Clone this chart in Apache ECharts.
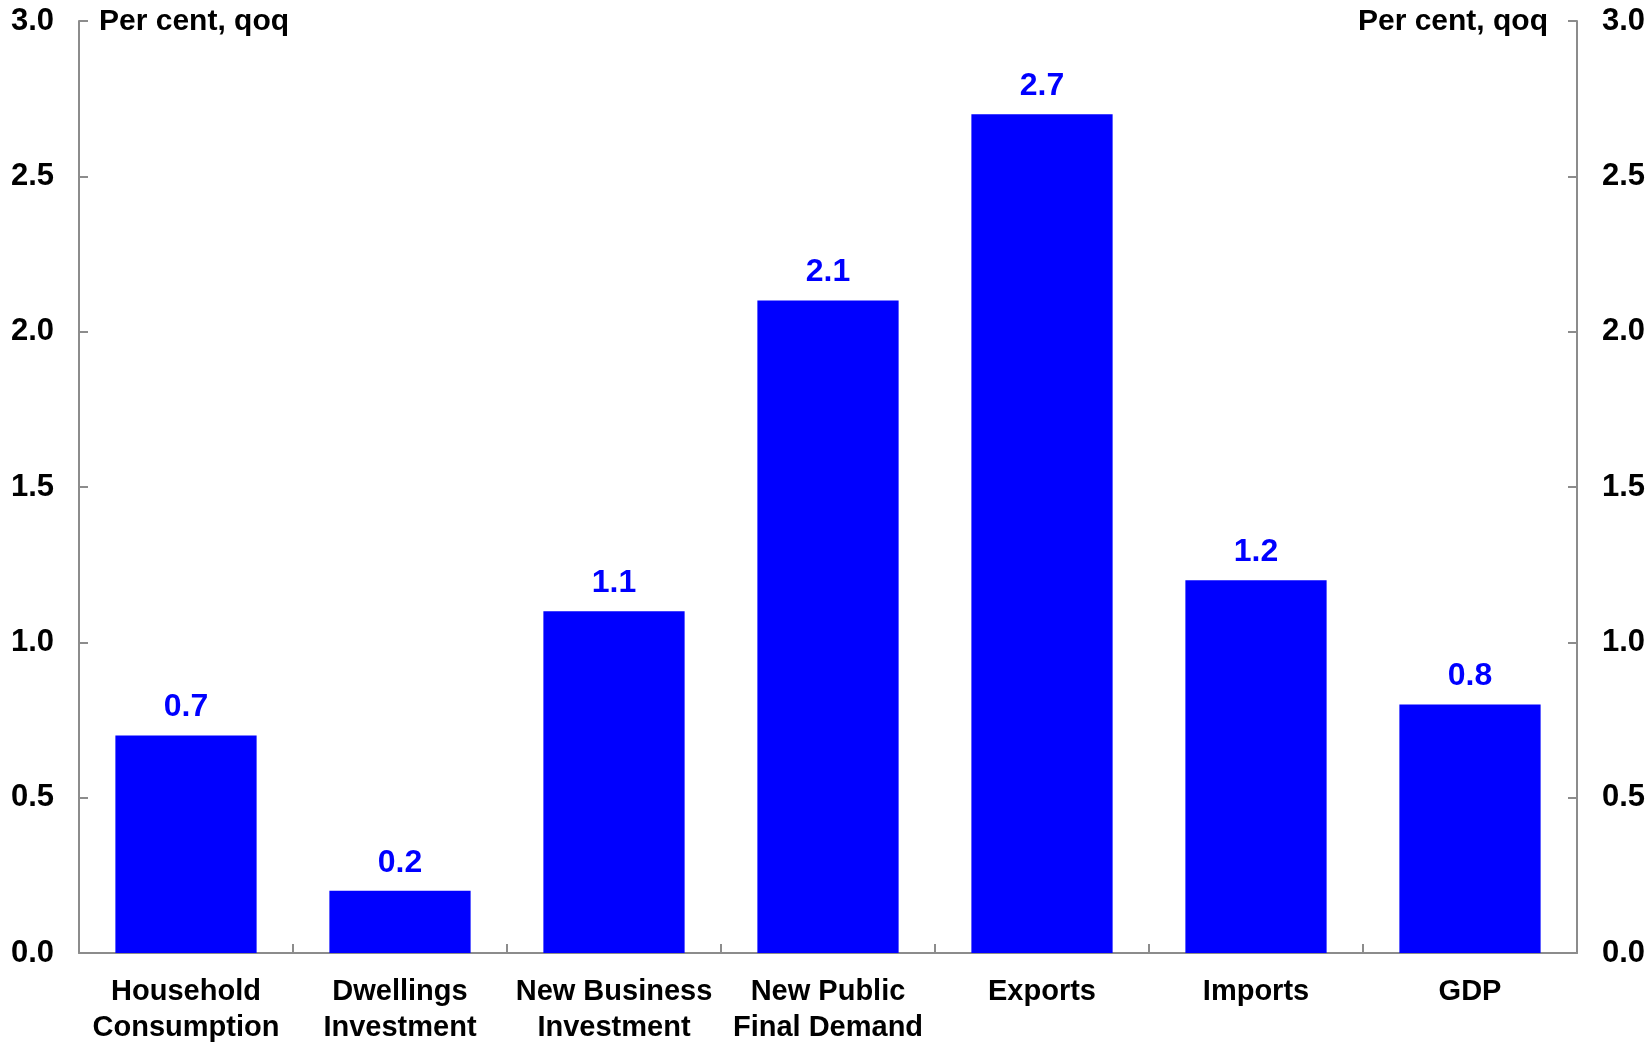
<!DOCTYPE html>
<html>
<head>
<meta charset="utf-8">
<title>GDP components</title>
<script src="https://cdn.jsdelivr.net/npm/echarts@6/dist/echarts.min.js"></script>
<style>
  html, body { margin: 0; padding: 0; background: #fff; }
  #chart { width: 1651px; height: 1048px; }
</style>
</head>
<body>
<div id="chart"></div>
<script>
// categories and values
const categories = [
    'Household\nConsumption',
    'Dwellings\nInvestment',
    'New Business\nInvestment',
    'New Public\nFinal Demand',
    'Exports',
    'Imports',
    'GDP'
];
const growth = [0.7, 0.2, 1.1, 2.1, 2.7, 1.2, 0.8];
const yTicks = [0, 0.5, 1.0, 1.5, 2.0, 2.5, 3.0];
const unitLabel = 'Per cent, qoq';

const FONT = 'Arial, "Liberation Sans", sans-serif';
const AXIS_COLOR = '#8c8c8c';

const chart = echarts.init(document.getElementById('chart'));

function yAxisDef(pos) {
    return {
        type: 'value',
        position: pos,
        min: yTicks[0],
        max: yTicks[yTicks.length - 1],
        interval: yTicks[1] - yTicks[0],
        axisLine: { show: true, lineStyle: { color: AXIS_COLOR, width: 2 } },
        axisTick: { show: true, inside: true, length: 9, lineStyle: { color: AXIS_COLOR, width: 2 } },
        splitLine: { show: false },
        axisLabel: {
            margin: 25,
            fontFamily: FONT,
            fontSize: 31,
            fontWeight: 'bold',
            color: '#000',
            formatter: v => v.toFixed(1)
        }
    };
}

const option = {
    backgroundColor: '#fff',
    animation: false,
    grid: { left: 79, right: 74, top: 21, bottom: 95 },
    xAxis: {
        type: 'category',
        data: categories,
        axisLine: { lineStyle: { color: AXIS_COLOR, width: 2 } },
        axisTick: { show: true, inside: true, length: 9, lineStyle: { color: AXIS_COLOR, width: 2 } },
        axisLabel: {
            margin: 21,
            fontFamily: FONT,
            fontSize: 29,
            fontWeight: 'bold',
            lineHeight: 36,
            color: '#000',
            interval: 0
        }
    },
    yAxis: [yAxisDef('left'), yAxisDef('right')],
    graphic: [
        {
            type: 'text', left: 99, top: 7,
            style: { text: unitLabel, font: 'bold 30px ' + FONT, fill: '#000' }
        },
        {
            type: 'text', right: 103, top: 7,
            style: { text: unitLabel, font: 'bold 30px ' + FONT, fill: '#000' }
        }
    ],
    series: [{
        type: 'bar',
        data: growth,
        barCategoryGap: '34%',
        itemStyle: { color: '#0000ff' },
        label: {
            show: true,
            position: 'top',
            distance: 12,
            fontFamily: FONT,
            fontSize: 32,
            fontWeight: 'bold',
            color: '#0000ff',
            formatter: p => p.value.toFixed(1)
        }
    }]
};

option && chart.setOption(option);
</script>
</body>
</html>
